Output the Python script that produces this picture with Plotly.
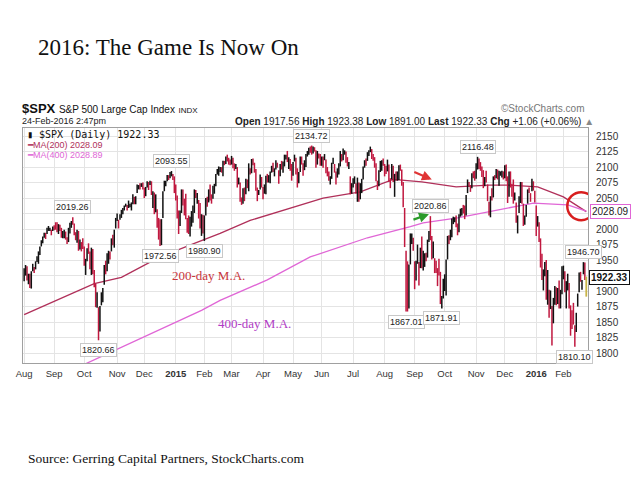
import plotly.graph_objects as go

# ---------------- data ----------------
month_days = [21, 21, 23, 19, 22, 20, 19, 22, 21, 20, 22, 22, 21, 21, 22, 20, 22, 19, 17]
month_labels = ["Aug", "Sep", "Oct", "Nov", "Dec", "<b>2015</b>", "Feb", "Mar", "Apr", "May", "Jun",
                "Jul", "Aug", "Sep", "Oct", "Nov", "Dec", "<b>2016</b>", "Feb"]

closes = [
    1925,1938,1920,1920,1910,1931,1936,1933,1946,1955,1955,1971,1981,1986,1992,1988,1997,2000,2000,1996,2003,
    2002,2000,1998,2007,2001,1988,1996,1998,1985,1984,1998,2001,2011,2010,1994,1982,1998,1966,1982,1977,1972,
    1946,1946,1967,1964,1935,1968,1928,1906,1874,1877,1862,1862,1886,1904,1941,1927,1950,1964,1962,1985,1982,1994,2018,
    2018,2012,2023,2031,2032,2038,2039,2038,2039,2039,2041,2051,2048,2052,2063,2069,2068,2073,2068,
    2053,2066,2074,2071,2075,2060,2060,2026,2035,2002,1990,1972,2012,2061,2070,2078,2082,2081,2088,2091,2080,2059,
    2058,2021,2003,2026,2062,2045,2028,2023,2011,1993,2019,2023,2032,2063,2051,2057,2029,2002,2021,1995,
    2021,2050,2041,2062,2055,2046,2068,2068,2088,2097,2100,2100,2097,2110,2109,2115,2113,2110,2105,
    2117,2108,2099,2101,2071,2079,2044,2040,2066,2053,2081,2074,2100,2089,2108,2104,2092,2062,2057,2061,2087,2068,
    2060,2067,2081,2076,2082,2091,2102,2092,2095,2106,2105,2081,2101,2097,2107,2113,2117,2109,2115,2106,2086,
    2108,2115,2089,2081,2088,2116,2105,2099,2099,2121,2123,2129,2128,2126,2131,2126,2104,2123,2121,2107,
    2112,2110,2114,2095,2092,2079,2080,2105,2108,2094,2085,2097,2101,2122,2110,2122,2124,2108,2102,2102,2058,2063,
    2077,2077,2068,2081,2047,2052,2077,2100,2109,2107,2124,2127,2128,2119,2114,2102,2080,2068,2093,2109,2109,2104,
    2098,2094,2100,2084,2078,2104,2084,2086,2084,2092,2103,2097,2080,2036,1971,1893,1868,1940,1988,1989,1972,
    1914,1949,1951,1921,1970,1942,1953,1961,1953,1978,1996,1990,1959,1967,1943,1939,1932,1931,1882,1884,1920,
    1923,1951,1987,1980,1996,2014,2015,2017,2004,1994,2023,2033,2033,2030,2018,2052,2075,2071,2066,2090,2089,2079,
    2104,2109,2102,2100,2099,2079,2081,2076,2045,2023,2053,2051,2084,2081,2089,2087,2089,2089,2090,2080,
    2102,2080,2050,2092,2077,2063,2047,2052,2012,2021,2043,2073,2041,2006,2021,2038,2064,2061,2057,2078,2063,2044,
    2012,2016,1990,1944,1922,1923,1938,1890,1921,1880,1881,1859,1869,1906,1878,1903,1883,1893,1940,
    1940,1904,1913,1915,1880,1853,1852,1851,1829,1865,1896,1927,1917,1918,1946,1921,1922.33,
]

highs = [
    1937,1942,1940,1928,1928,1932,1944,1939,1948,1956,1964,1972,1982,1988,1994,1994,2002,2005,2002,1999,2004,
    2006,2011,2011,2008,2007,2002,1997,1999,1996,1987,2002,2010,2013,2019.26,2009,1995,1999,1997,1983,1979,1985,
    1972,1952,1969,1977,1964,1970,1968,1934,1912,1898,1874,1876,1898,1905,1942,1949,1961,1965,1964,1985,1991,1999,2018,
    2025,2015,2024,2031,2034,2038,2041,2039,2046,2041,2043,2056,2052,2053,2072,2071,2074,2074,2075,
    2067,2068,2077,2076,2078,2077,2061,2059,2056,2032,2018,2016,2016,2061,2078,2078,2087,2087,2092,2093.55,2089,2085,
    2072,2054,2030,2030,2064,2064,2049,2057,2018,2022,2020,2029,2038,2064,2063,2058,2047,2042,2024,2023,
    2022,2050,2052,2064,2072,2056,2070,2073,2089,2097,2101,2100,2100,2110,2110,2117,2120,2115,2112,
    2118,2115,2106,2105,2100,2083,2075,2051,2066,2067,2081,2080,2106,2098,2113,2114,2107,2097,2067,2063,2088,2084,
    2068,2072,2086,2089,2087,2093,2102,2107,2098,2111,2107,2095,2105,2110,2109,2120,2120,2126,2116,2113,2105,
    2108,2120,2115,2098,2092,2117,2117,2106,2111,2121,2126,2131,2133,2134.72,2133,2132,2127,2126,2122,2121,
    2117,2117,2121,2112,2100,2093,2085,2107,2115,2105,2093,2098,2106,2126,2121,2130,2127,2125,2116,2108,2085,2074,
    2082,2085,2074,2083,2075,2074,2081,2101,2111,2114,2124,2127,2133,2129,2121,2116,2106,2078,2095,2110,2111,2114,
    2105,2102,2112,2104,2082,2105,2102,2089,2093,2093,2103,2104,2096,2076,2034,1965,1948,1943,1993,1993,1986,
    1948,1949,1975,1947,1970,1988,1965,1961,1962,1983,1997,2020.86,1989,1980,1953,1949,1937,1952,1931,1892,1920,
    1927,1951,1989,1990,1999,2017,2020,2019,2022,2009,2024,2033,2034,2039,2038,2055,2080,2076,2071,2090,2093,2094,
    2106,2116.48,2114,2108,2101,2095,2084,2094,2072,2044,2053,2066,2085,2087,2097,2096,2094,2093,2094,2093,
    2103,2104,2085,2093,2093,2073,2080,2059,2043,2022,2053,2076,2076,2041,2022,2039,2064,2067,2058,2081,2077,2062,
    2038,2021,2011,1985,1960,1935,1947,1950,1934,1902,1901,1876,1889,1908,1906,1905,1917,1902,1940,
    1941,1932,1916,1928,1913,1877,1869,1881,1845,1865,1896,1930,1931,1918,1946.70,1946,1923.38,
]

lows = [
    1916,1925,1917,1911,1905,1904,1932,1929,1935,1947,1944,1958,1972,1977,1986,1984,1992,1997,1997,1990,1997,
    1998,1999,1995,1992,1997,1986,1985,1985,1983,1976,1979,1993,2002,2007,1990,1982,1978,1965,1967,1964,1968,
    1941,1926,1948,1960,1935,1926,1927,1906,1874,1873,1820.66,1835,1877,1882,1910,1927,1932,1944,1951,1964,1974,1970,2001,
    2013,2001,2015,2018,2024,2030,2036,2030,2034,2035,2030,2040,2040,2040,2058,2064,2064,2068,2064,
    2050,2053,2067,2063,2071,2055,2034,2024,2027,2002,1983,1972.56,1974,2018,2061,2069,2077,2079,2082,2085,2079,2058,
    2046,2017,1992,2005,2026,2038,2022,2016,1994,1992,1988,2004,2010,2026,2050,2041,2017,2001,1989,1993,
    1980.90,2022,2036,2043,2046,2041,2049,2057,2069,2088,2086,2092,2091,2085,2103,2105,2109,2104,2103,
    2104,2098,2094,2097,2067,2072,2044,2039,2041,2045,2056,2066,2061,2088,2090,2103,2091,2062,2045,2055,2064,2067,
    2048,2057,2056,2075,2075,2074,2091,2092,2085,2096,2099,2073,2085,2096,2091,2101,2112,2108,2097,2094,2078,
    2086,2109,2088,2067,2074,2092,2104,2086,2095,2100,2117,2120,2123,2120,2122,2125,2099,2104,2114,2102,
    2102,2099,2111,2090,2085,2078,2072,2081,2105,2091,2072,2083,2088,2101,2109,2111,2120,2107,2101,2097,2056,2057,
    2067,2073,2057,2044,2044,2048,2058,2080,2099,2102,2110,2118,2124,2113,2110,2099,2077,2063,2069,2092,2094,2102,
    2085,2089,2093,2076,2066,2080,2076,2052,2078,2078,2079,2094,2070,2035,1971,1867.01,1867,1872,1943,1976,1965,
    1903,1917,1944,1909,1937,1937,1933,1939,1948,1954,1979,1982,1951,1953,1929,1929,1908,1925,1879,1871.91,1888,
    1900,1893,1951,1976,1982,1987,2008,2011,2003,1990,1995,2020,2022,2025,2016,2022,2058,2068,2060,2066,2082,2078,
    2081,2096,2097,2094,2084,2066,2069,2075,2045,2022,2019,2046,2051,2079,2082,2080,2070,2086,2083,2080,
    2082,2077,2042,2052,2067,2052,2041,2046,2010,1993,2026,2042,2041,2005,2007,2020,2041,2058,2044,2061,2062,2043,
    1989,2004,1979,1938,1918,1901,1924,1886,1878,1857,1871,1812.29,1848,1878,1877,1879,1872,1872,1895,
    1919,1898,1872,1901,1872,1828,1839,1846,1810.10,1834,1875,1898,1915,1902,1927,1918,1891,
]

ma200_idx = [0, 49, 68, 94, 119, 137, 158, 209, 235, 258, 278, 302, 325, 339, 359, 377, 393]
ma200_val = [1862, 1912, 1922, 1954, 1977, 1993, 2014, 2050, 2060, 2080, 2076, 2068, 2071, 2071, 2068, 2052, 2028.09]
ma400_idx = [0, 44, 84, 124, 137, 170, 200, 240, 270, 279, 303, 326, 333, 356, 380, 393]
ma400_val = [1737, 1784, 1826, 1869, 1885, 1918, 1955, 1986, 2004, 2010, 2018, 2028, 2031, 2042, 2039, 2028.89]

price_labels = [  # (day index, value, above?)
    (34, 2019.26, True), (52, 1820.66, False), (103, 2093.55, True), (95, 1972.56, False),
    (126, 1980.90, False), (201, 2134.72, True), (267, 1867.01, False), (284, 2020.86, True),
    (292, 1871.91, False), (317, 2116.48, True), (391, 1946.70, True), (385, 1810.10, False),
]

y_ticks = list(range(1800, 2151, 25))
y_hidden = [2025, 1925]  # covered by the value flags

# ---------------- styling ----------------
UP = "#111111"
DOWN = "#c0183f"
MA200_C = "#b0305a"
MA400_C = "#e066d6"
SANS = "Liberation Sans, Arial, sans-serif"
SERIF = "Liberation Serif, DejaVu Serif, serif"

n = len(closes)
tick_pos = []
acc = 0
for d in month_days:
    tick_pos.append(acc)
    acc += d

ux, uy, dx, dy = [], [], [], []
for i in range(n - 1):
    up = i == 0 or closes[i] >= closes[i - 1]
    if up:
        ux += [i, i, None]; uy += [lows[i], highs[i], None]
    else:
        dx += [i, i, None]; dy += [lows[i], highs[i], None]

fig = go.Figure()
fig.add_trace(go.Scatter(x=ma200_idx, y=ma200_val, mode="lines", line=dict(color=MA200_C, width=1.3),
                         hoverinfo="skip", showlegend=False))
fig.add_trace(go.Scatter(x=ma400_idx, y=ma400_val, mode="lines", line=dict(color=MA400_C, width=1.3),
                         hoverinfo="skip", showlegend=False))
fig.add_trace(go.Scatter(x=dx, y=dy, mode="lines", line=dict(color=DOWN, width=1.5), showlegend=False))
fig.add_trace(go.Scatter(x=ux, y=uy, mode="lines", line=dict(color=UP, width=1.5), showlegend=False))
last = n - 1
fig.add_trace(go.Scatter(x=[last, last], y=[lows[last], highs[last]], mode="lines",
                         line=dict(color="#c8b448", width=1.8), showlegend=False))

ann = []
for idx, val, above in price_labels:
    ann.append(dict(x=idx, y=val, xref="x", yref="y", text=f"{val:.2f}", showarrow=False,
                    yanchor="bottom" if above else "top", yshift=3 if above else -3,
                    font=dict(family=SANS, size=9, color="#222"), bgcolor="white",
                    bordercolor="#c8c8c8", borderwidth=1, borderpad=1))

# right-side value flags
ann.append(dict(x=1.0, y=ma200_val[-1], xref="paper", yref="y", xanchor="left", xshift=2,
                text="2028.09", showarrow=False, font=dict(family=SANS, size=10, color="#222"),
                bgcolor="white", bordercolor=MA400_C, borderwidth=1, borderpad=1))
ann.append(dict(x=1.0, y=closes[-1], xref="paper", yref="y", xanchor="left", xshift=1,
                text="<b>1922.33</b>", showarrow=False, font=dict(family=SANS, size=10, color="#111"),
                bgcolor="white", bordercolor="#111", borderwidth=1, borderpad=1))

# MA text labels
ann.append(dict(x=102, y=1925, xref="x", yref="y", xanchor="left", text="200-day M.A.", showarrow=False,
                font=dict(family=SERIF, size=13, color="#c8363c")))
ann.append(dict(x=134, y=1847, xref="x", yref="y", xanchor="left", text="400-day M.A.", showarrow=False,
                font=dict(family=SERIF, size=13, color="#b03cc4")))

# arrows
ann.append(dict(x=285, y=2080, xref="x", yref="y", ax=-19, ay=-8, text="", showarrow=True,
                arrowcolor="#e03535", arrowwidth=2.2, arrowhead=2, arrowsize=0.9))
ann.append(dict(x=283, y=2024, xref="x", yref="y", ax=-17, ay=6, text="", showarrow=True,
                arrowcolor="#2a9a2a", arrowwidth=2.2, arrowhead=2, arrowsize=0.9))

# header texts (paper coordinates)
def px(xp):
    return (xp - 23) / 565.0

def py(yp):
    return (363 - yp) / 235.0

ann.append(dict(x=px(36), y=py(47), xref="paper", yref="paper", xanchor="left", yanchor="middle",
                text="2016: The Game Is Now On", showarrow=False,
                font=dict(family=SERIF, size=23, color="#111")))
ann.append(dict(x=px(26), y=py(458), xref="paper", yref="paper", xanchor="left", yanchor="middle",
                text="Source: Gerring Capital Partners, StockCharts.com", showarrow=False,
                font=dict(family=SERIF, size=13.5, color="#111")))
ann.append(dict(x=px(20), y=py(108), xref="paper", yref="paper", xanchor="left", yanchor="middle",
                text="<b>$SPX</b> <span style='font-size:10px'>S&amp;P 500 Large Cap Index</span> "
                     "<span style='font-size:8px'>INDX</span>",
                showarrow=False, font=dict(family=SANS, size=13, color="#111")))
ann.append(dict(x=px(20), y=py(121), xref="paper", yref="paper", xanchor="left", yanchor="middle",
                text="24-Feb-2016 2:47pm", showarrow=False, font=dict(family=SANS, size=9, color="#222")))
ann.append(dict(x=px(596), y=py(121), xref="paper", yref="paper", xanchor="right", yanchor="middle",
                text="<b>Open</b> 1917.56 <b>High</b> 1923.38 <b>Low</b> 1891.00 <b>Last</b> 1922.33 "
                     "<b>Chg</b> +1.06 (+0.06%) <span style='color:#888'>▲</span>",
                showarrow=False, font=dict(family=SANS, size=10, color="#222")))
ann.append(dict(x=px(587), y=py(108), xref="paper", yref="paper", xanchor="right", yanchor="middle",
                text="©StockCharts.com", showarrow=False, font=dict(family=SANS, size=10, color="#777")))

# in-plot legend
ann.append(dict(x=px(25), y=py(134), xref="paper", yref="paper", xanchor="left", yanchor="middle",
                text="▮ $SPX (Daily) 1922.33", showarrow=False,
                font=dict(family="DejaVu Sans Mono, monospace", size=10, color="#111")))
ann.append(dict(x=px(25), y=py(145), xref="paper", yref="paper", xanchor="left", yanchor="middle",
                text="━MA(200) 2028.09", showarrow=False,
                font=dict(family=SANS, size=9, color=MA200_C)))
ann.append(dict(x=px(25), y=py(155), xref="paper", yref="paper", xanchor="left", yanchor="middle",
                text="━MA(400) 2028.89", showarrow=False,
                font=dict(family=SANS, size=9, color=MA400_C)))

shapes = [dict(type="circle", xref="x", yref="y", xsizemode="pixel", ysizemode="pixel",
               xanchor=389.5, yanchor=2037, x0=-14, x1=14, y0=-14, y1=14,
               line=dict(color="#d81e1e", width=2.5))]

fig.update_layout(
    width=640, height=480,
    margin=dict(l=23, r=52, t=128, b=117),
    paper_bgcolor="white", plot_bgcolor="white",
    annotations=ann, shapes=shapes,
    xaxis=dict(range=[-0.8, 394.2], tickvals=tick_pos, ticktext=month_labels, showgrid=True,
               gridcolor="#e4e4e4", gridwidth=1, zeroline=False, showline=True, linecolor="#a0a0a0",
               mirror=True, ticks="", ticklabelstandoff=2,
               tickfont=dict(family=SANS, size=9.5, color="#333")),
    yaxis=dict(range=[1784, 2163], side="right", tickvals=y_ticks,
               ticktext=["" if v in y_hidden else str(v) for v in y_ticks],
               showgrid=True, gridcolor="#e4e4e4",
               zeroline=False, showline=True, linecolor="#a0a0a0", mirror=True, ticks="",
               ticklabelstandoff=5, tickfont=dict(family=SANS, size=10, color="#333")),
)

fig.write_html("out.html", config={"displayModeBar": False},
               post_script="document.body.style.margin='0px';")
